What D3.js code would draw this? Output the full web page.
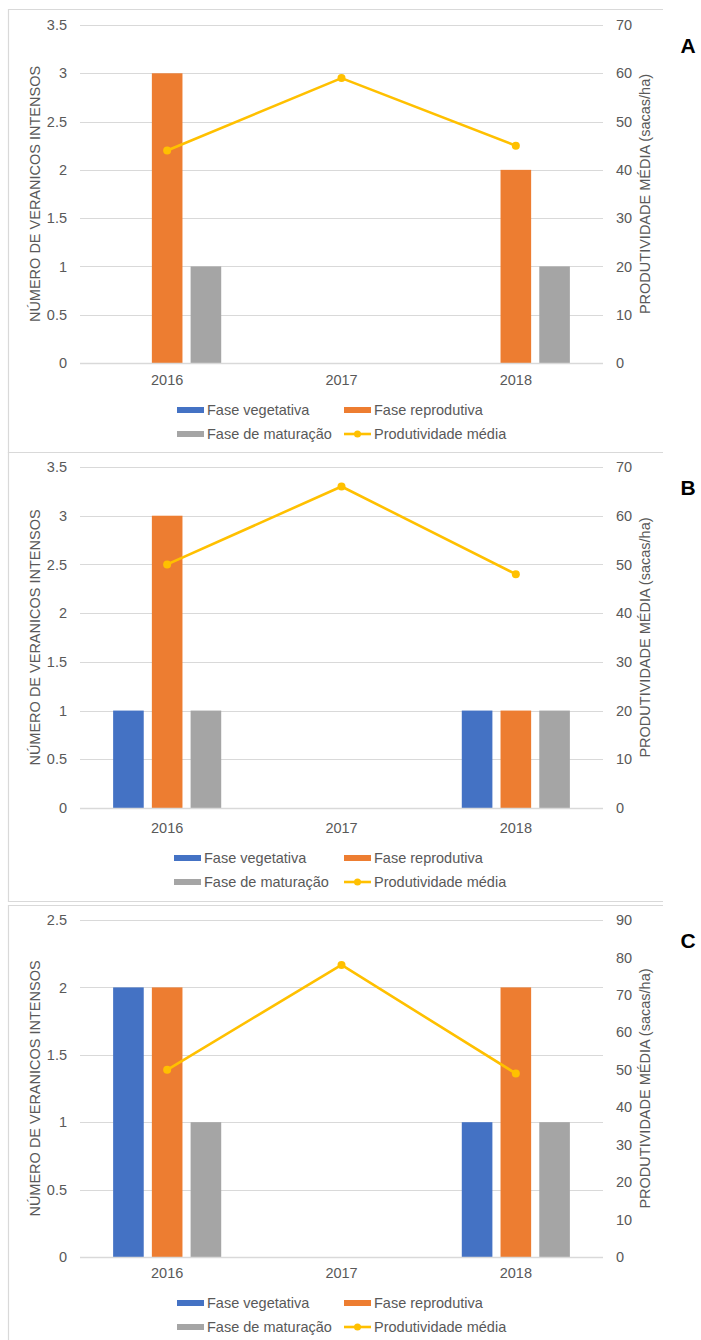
<!DOCTYPE html>
<html>
<head>
<meta charset="utf-8">
<script src="https://cdn.jsdelivr.net/npm/d3@7"></script>
<style>
  body { margin: 0; background: #fff; }
  text { font-family: "Liberation Sans", Arial, sans-serif; fill: #595959; }
</style>
</head>
<body>
<div id="chart"></div>
<script>
// categories and series
const years = ["2016", "2017", "2018"];
const barNames = ["Fase vegetativa", "Fase reprodutiva", "Fase de maturação"];
const lineName = "Produtividade média";
const colors = ["#4472C4", "#ED7D31", "#A5A5A5"];
const lineColor = "#FFC000";

// panel A
const vegA = [0, 0, 0];
const repA = [3, 0, 2];
const matA = [1, 0, 1];
const prodA = [44, 59, 45];
// panel B
const vegB = [1, 0, 1];
const repB = [3, 0, 1];
const matB = [1, 0, 1];
const prodB = [50, 66, 48];
// panel C
const vegC = [2, 0, 1];
const repC = [2, 0, 2];
const matC = [1, 0, 1];
const prodC = [50, 78, 49];

// tick labels
const leftTicksAB = [0, 0.5, 1, 1.5, 2, 2.5, 3, 3.5];
const rightTicksAB = [0, 10, 20, 30, 40, 50, 60, 70];
const leftTicksC = [0, 0.5, 1, 1.5, 2, 2.5];
const rightTicksC = [0, 10, 20, 30, 40, 50, 60, 70, 80, 90];

const W = 701, H = 1340;
const svg = d3.select("#chart").append("svg")
  .attr("width", W).attr("height", H);

const panels = [
  { letter: "A", bars: [vegA, repA, matA], prod: prodA, lt: leftTicksAB, rt: rightTicksAB,
    top: 9, bottom: 452, gTop: 25, gBot: 363, xLab: 380, leg: [410, 434], legX: 177 },
  { letter: "B", bars: [vegB, repB, matB], prod: prodB, lt: leftTicksAB, rt: rightTicksAB,
    top: 452, bottom: 901, gTop: 467, gBot: 808, xLab: 828, leg: [858, 882], legX: 174 },
  { letter: "C", bars: [vegC, repC, matC], prod: prodC, lt: leftTicksC, rt: rightTicksC,
    top: 905, bottom: 1345, gTop: 920, gBot: 1257, xLab: 1273, leg: [1303, 1327], legX: 177 }
];

const plotL = 80, plotR = 603;
const fs = "14.5px";

panels.forEach(p => {
  const g = svg.append("g");

  // frame (top, left, bottom)
  g.append("path")
    .attr("d", `M663,${p.top + 0.5}H8.5V${p.bottom + 0.5}H663`)
    .attr("fill", "none").attr("stroke", "#d9d9d9").attr("stroke-width", 1.2);

  const y = d3.scaleLinear()
    .domain([0, d3.max(p.lt)])
    .range([p.gBot, p.gTop]);
  const y2 = d3.scaleLinear()
    .domain([0, d3.max(p.rt)])
    .range([p.gBot, p.gTop]);

  const x0 = d3.scaleBand().domain(years).range([plotL, plotR]);
  const bw = x0.bandwidth();
  const x1 = d3.scaleBand().domain(d3.range(3))
    .range([bw * 0.19, bw * 0.81]).paddingInner(0.21);

  // gridlines
  g.append("g").selectAll("line").data(p.lt).join("line")
    .attr("x1", plotL).attr("x2", plotR)
    .attr("y1", d => Math.round(y(d)) + 0.5).attr("y2", d => Math.round(y(d)) + 0.5)
    .attr("stroke", "#d9d9d9").attr("stroke-width", 1.2);

  // left axis
  const axL = g.append("g")
    .attr("transform", `translate(${plotL},0)`)
    .call(d3.axisLeft(y).tickValues(p.lt).tickSize(0).tickPadding(13).tickFormat(d3.format("")));
  axL.select(".domain").remove();
  axL.selectAll("text").style("font-size", fs).style("font-family", null).attr("fill", "#595959");

  // right axis
  const axR = g.append("g")
    .attr("transform", `translate(${plotR},0)`)
    .call(d3.axisRight(y2).tickValues(p.rt).tickSize(0).tickPadding(13));
  axR.select(".domain").remove();
  axR.selectAll("text").style("font-size", fs).style("font-family", null).attr("fill", "#595959");

  // bottom axis labels
  const axB = g.append("g")
    .attr("transform", `translate(0,${p.xLab})`)
    .call(d3.axisBottom(x0).tickSize(0).tickPadding(0));
  axB.select(".domain").remove();
  axB.selectAll("text").attr("dy", "0.35em").attr("y", 0)
    .style("font-size", fs).style("font-family", null).attr("fill", "#595959");

  // bars
  p.bars.forEach((vals, si) => {
    g.append("g").selectAll("rect").data(vals).join("rect")
      .attr("x", (d, i) => x0(years[i]) + x1(si))
      .attr("width", x1.bandwidth())
      .attr("y", d => y(d))
      .attr("height", d => y(0) - y(d))
      .attr("fill", colors[si]);
  });

  // baseline
  g.append("line")
    .attr("x1", plotL).attr("x2", plotR)
    .attr("y1", Math.round(y(0)) + 0.5).attr("y2", Math.round(y(0)) + 0.5)
    .attr("stroke", "#d9d9d9").attr("stroke-width", 1.4);

  // line series
  const line = d3.line()
    .x((d, i) => x0(years[i]) + bw / 2)
    .y(d => y2(d));
  g.append("path").datum(p.prod)
    .attr("d", line)
    .attr("fill", "none").attr("stroke", lineColor).attr("stroke-width", 2.6)
    .attr("stroke-linejoin", "round");
  g.append("g").selectAll("circle").data(p.prod).join("circle")
    .attr("cx", (d, i) => x0(years[i]) + bw / 2)
    .attr("cy", d => y2(d))
    .attr("r", 4).attr("fill", lineColor);

  // axis titles
  const midY = (p.gTop + p.gBot) / 2;
  g.append("text")
    .attr("transform", `translate(35,${midY}) rotate(-90)`)
    .attr("text-anchor", "middle").attr("dy", "0.35em")
    .style("font-size", fs)
    .text("NÚMERO DE VERANICOS INTENSOS");
  g.append("text")
    .attr("transform", `translate(645,${midY}) rotate(-90)`)
    .attr("text-anchor", "middle").attr("dy", "0.35em")
    .style("font-size", fs)
    .text("PRODUTIVIDADE MÉDIA (sacas/ha)");

  // panel letter
  g.append("text")
    .attr("x", 688).attr("y", p.gTop + 20 + 7.5)
    .attr("text-anchor", "middle")
    .style("font-size", "21px").style("font-weight", "bold").style("fill", "#000")
    .text(p.letter);

  // legend
  const legItems = [
    { name: barNames[0], col: 0, row: 0, type: "bar", c: colors[0] },
    { name: barNames[1], col: 1, row: 0, type: "bar", c: colors[1] },
    { name: barNames[2], col: 0, row: 1, type: "bar", c: colors[2] },
    { name: lineName, col: 1, row: 1, type: "line", c: lineColor }
  ];
  const colX = [p.legX, 344];
  const lg = g.append("g");
  legItems.forEach(it => {
    const lx = colX[it.col], ly = p.leg[it.row];
    if (it.type === "bar") {
      lg.append("rect").attr("x", lx).attr("y", ly - 3).attr("width", 27).attr("height", 6)
        .attr("fill", it.c);
    } else {
      lg.append("line").attr("x1", lx).attr("x2", lx + 27).attr("y1", ly).attr("y2", ly)
        .attr("stroke", it.c).attr("stroke-width", 2.6);
      lg.append("circle").attr("cx", lx + 13.5).attr("cy", ly).attr("r", 3.5).attr("fill", it.c);
    }
    lg.append("text").attr("x", lx + 30).attr("y", ly).attr("dy", "0.35em")
      .style("font-size", fs).text(it.name);
  });
});
</script>
</body>
</html>
